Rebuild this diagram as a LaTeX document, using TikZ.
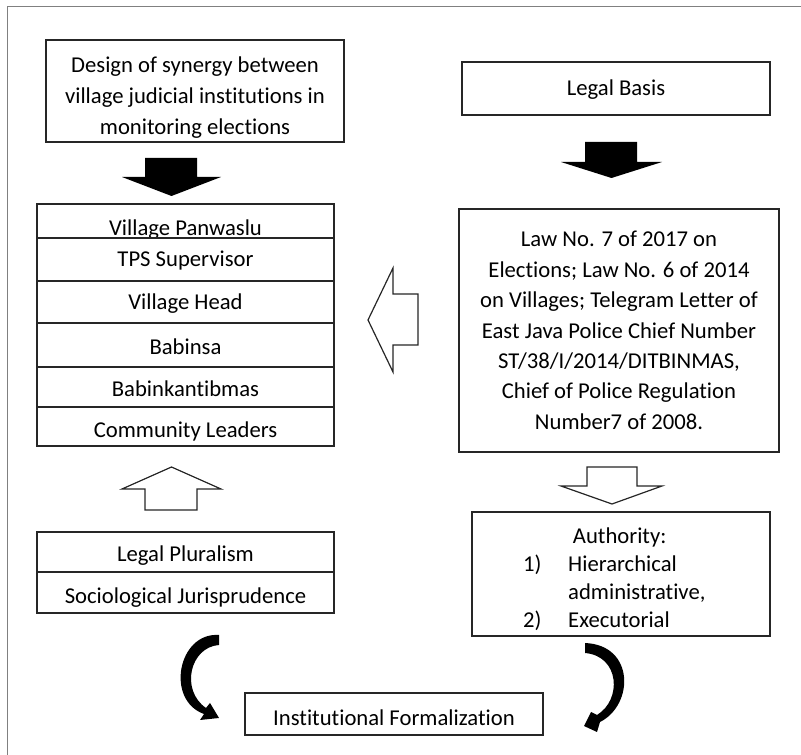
\documentclass[tikz,border=0pt]{standalone}
\usepackage{fontspec}
\setmainfont{Carlito}[Ligatures=NoCommon]
\begin{document}
\begin{tikzpicture}[x=0.75pt,y=-0.75pt,
  box/.style={draw=black!85, line width=0.9pt, inner sep=0pt, font=\fontsize{17}{23.25}\selectfont, align=center},
  one/.style={box, text height=11pt, text depth=0pt},
  blockarrow/.style={fill=black},
  hollowarrow/.style={draw=black!85, line width=0.9pt, fill=white, line join=miter},
  curvearrow/.style={fill=black},
  frameline/.style={draw=black!50, line width=1pt}]
\useasboundingbox (0,0) rectangle (801,755);
% frame
\draw[frameline] (7.5,755) -- (7.5,6.5) -- (801,6.5);
% top boxes
\node[box, minimum width=298*0.75pt, minimum height=102*0.75pt] (design) at (195,91)
  {\raisebox{-4.5pt}[\height][\depth]{\begin{tabular}{@{}c@{}}Design of synergy between\\village judicial institutions in\\monitoring elections\end{tabular}}};
\node[one, minimum width=308*0.75pt, minimum height=53*0.75pt] (legal) at (616,88.5) {Legal Basis};
\node[box, minimum width=320*0.75pt, minimum height=243*0.75pt, font=\fontsize{17}{22.8}\selectfont] (law) at (619,330.5)
  {Law No. 7 of 2017 on\\Elections; Law No. 6 of 2014\\on Villages; Telegram Letter of\\East Java Police Chief Number\\ST/38/I/2014/DITBINMAS,\\Chief of Police Regulation\\Number7 of 2008.};
% stacked rows
\node[one, minimum width=297*0.75pt, minimum height=34*0.75pt] (r1) at (185.5,221) {\raisebox{-5.5pt}{Village Panwaslu}};
\node[one, minimum width=297*0.75pt, minimum height=43*0.75pt] (r2) at (185.5,259.5) {TPS Supervisor};
\node[one, minimum width=297*0.75pt, minimum height=42*0.75pt] (r3) at (185.5,302) {Village Head};
\node[one, minimum width=297*0.75pt, minimum height=44*0.75pt] (r4) at (185.5,345) {\raisebox{-1.5pt}{Babinsa}};
\node[one, minimum width=297*0.75pt, minimum height=40*0.75pt] (r5) at (185.5,387) {\raisebox{-1.5pt}{Babinkantibmas}};
\node[one, minimum width=297*0.75pt, minimum height=39*0.75pt] (r6) at (185.5,426.5) {\raisebox{-2.5pt}{Community Leaders}};
% theory rows
\node[one, minimum width=297*0.75pt, minimum height=40*0.75pt] (lp) at (185.5,552) {\raisebox{-2pt}{Legal Pluralism}};
\node[one, minimum width=297*0.75pt, minimum height=41*0.75pt] (sj) at (185.5,592.5) {\raisebox{-2.5pt}{Sociological Jurisprudence}};
% authority
\node[box, minimum width=298*0.75pt, minimum height=124*0.75pt, font=\fontsize{17}{21}\selectfont] (auth) at (621,574)
  {\hspace*{-10pt}\raisebox{-4.5pt}[\height][\depth]{\begin{tabular}{@{}l@{\hspace{20pt}}l@{}}
   \multicolumn{2}{c}{\hspace*{8pt}Authority:}\\
   1) & Hierarchical\\
      & administrative,\\
   2) & Executorial
   \end{tabular}}};
% institutional formalization
\node[one, minimum width=298*0.75pt, minimum height=42*0.75pt] (inst) at (394,714) {\raisebox{-3pt}{Institutional Formalization}};
% black arrows
\fill[blockarrow] (145,158) -- (197,158) -- (197,177) -- (221,177) -- (171.5,196) -- (122,177) -- (145,177) -- cycle;
\fill[blockarrow] (585,142) -- (637,142) -- (637,162) -- (662,162) -- (611.5,178) -- (561,162) -- (585,162) -- cycle;
% hollow arrows
\draw[hollowarrow] (145,510) -- (197,510) -- (197,489) -- (221,489) -- (171.5,467) -- (122,489) -- (145,489) -- cycle;
\draw[hollowarrow] (418,294) -- (418,345) -- (393,345) -- (393,372) -- (368,320) -- (393,268) -- (393,294) -- cycle;
\draw[hollowarrow] (587,467) -- (637,467) -- (637,486) -- (662,486) -- (612,504) -- (561,486) -- (587,486) -- cycle;
% curved arrows
\fill[curvearrow] (219,635) .. controls (178,632) and (165,700) .. (204,714)
  -- (200,720) -- (219,718) -- (210,703) -- (206,708)
  .. controls (180,690) and (190,647) .. (219,645) -- cycle;
\fill[curvearrow] (585,643) .. controls (635,645) and (634,705) .. (600,722)
  -- (597,732) -- (584,726) -- (591,712) -- (597,715)
  .. controls (622,700) and (620,656) .. (585,653) -- cycle;
\end{tikzpicture}
\end{document}
